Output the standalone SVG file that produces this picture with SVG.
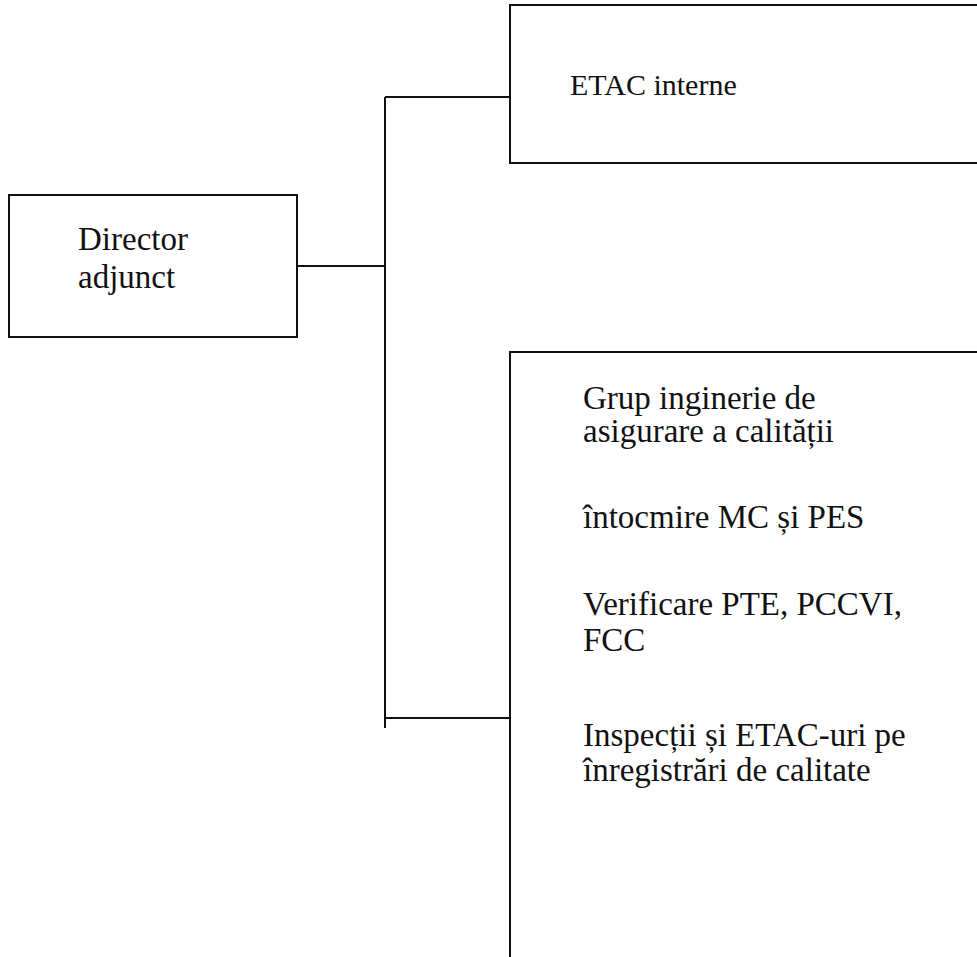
<svg xmlns="http://www.w3.org/2000/svg" width="977" height="957" viewBox="0 0 977 957">
<style>
.box{fill:#fff;stroke:#111;stroke-width:2}
.ln{stroke:#111;stroke-width:2;fill:none}
text{font-family:"Liberation Serif","Times New Roman",serif;font-size:33px;fill:#111}
.sm{font-size:30px}
</style>
<rect width="977" height="957" fill="#fff"/>
<g id="connectors">
<path class="ln" d="M297,266 H385"/>
<path class="ln" d="M385,97 V728"/>
<path class="ln" d="M385,97 H510"/>
<path class="ln" d="M385,718 H510"/>
</g>
<g id="director">
<rect class="box" x="9" y="195" width="288" height="142"/>
<text x="78" y="250">Director</text>
<text x="78" y="288">adjunct</text>
</g>
<g id="etac">
<rect class="box" x="510" y="5" width="500" height="158"/>
<text class="sm" x="570" y="95">ETAC interne</text>
</g>
<g id="grup">
<rect class="box" x="510" y="352" width="500" height="640"/>
<text x="583" y="409">Grup inginerie de</text>
<text x="583" y="442">asigurare a calității</text>
<text x="583" y="528">întocmire MC și PES</text>
<text x="583" y="615">Verificare PTE, PCCVI,</text>
<text x="583" y="651">FCC</text>
<text x="583" y="746">Inspecții și ETAC-uri pe</text>
<text x="583" y="781">înregistrări de calitate</text>
</g>
</svg>
